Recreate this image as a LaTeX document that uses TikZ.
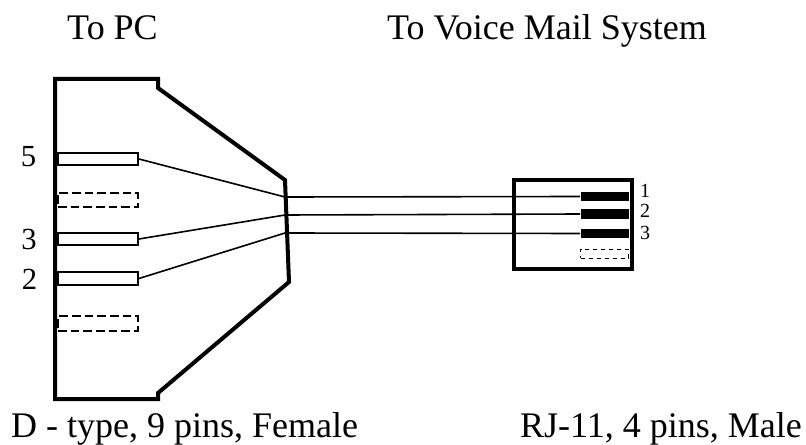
\documentclass[tikz,border=0pt]{standalone}
\usepackage{fontspec}
\setmainfont{Liberation Serif}
\begin{document}
\begin{tikzpicture}[x=0.75pt,y=-0.75pt,
    shell/.style = {line width=3pt,line join=miter},
    pin/.style = {draw,line width=1.4pt,inner sep=0pt,minimum width=60pt,minimum height=9.5pt},
    sparepin/.style = {pin,line width=1.3pt,dash pattern=on 6.5pt off 3pt,minimum height=11pt},
    blade/.style = {fill=black,inner sep=0pt,minimum width=36pt,minimum height=7pt},
    spareblade/.style = {draw,dashed,line width=0.4pt,inner sep=0pt,minimum width=36pt,minimum height=6.6pt},
    wire/.style = {line width=1.2pt},
    title/.style = {font=\fontsize{27}{30}\selectfont,inner sep=0pt,anchor=base},
    pinno/.style = {font=\fontsize{23}{26}\selectfont,inner sep=0pt,anchor=base},
    bladeno/.style = {font=\fontsize{15}{16}\selectfont,inner sep=0pt,anchor=base}]
    \useasboundingbox (0,0) rectangle (806,445);

    \node[title] (topc) at (112.5,40) {To PC};
    \node[title] (tovm) at (547,40) {To Voice Mail System};
    \node[title] (dtype) at (184.5,437) {D - type, 9 pins, Female};
    \node[title] (rj) at (661,437) {RJ-11, 4 pins, Male};

    % D connector
    \draw[shell] (55,79) -- (158,79) -- (158,88) -- (285,180) -- (289,282) -- (158,393) -- (158,399) -- (55,399) -- cycle;
    \node[pin] (pinf) at (98,159) {};
    \node[sparepin] (sparea) at (98,200) {};
    \node[pin] (pinc) at (98,239) {};
    \node[pin] (pinb) at (98,278.5) {};
    \node[sparepin] (spareb) at (98,323.5) {};
    \node[pinno] (nof) at (28.5,167) {5};
    \node[pinno] (noc) at (29,249) {3};
    \node[pinno] (nob) at (29.5,289) {2};

    % RJ-11 plug
    \draw[shell] (514,180) rectangle (632,269);
    \node[blade] (bladea) at (604.5,196.5) {};
    \node[blade] (bladeb) at (604.5,214) {};
    \node[blade] (bladec) at (604.5,233.5) {};
    \node[spareblade] (bladed) at (604.5,253.5) {};
    \node[bladeno] (noa) at (645,198) {1};
    \node[bladeno] (nob2) at (645,218) {2};
    \node[bladeno] (noc2) at (645,240) {3};

    % wires
    \coordinate (benda) at (285,197);
    \coordinate (bendb) at (285,215);
    \coordinate (bendc) at (285,233);
    \draw[wire] (pinf.east) -- (benda) -- (bladea.west);
    \draw[wire] (pinc.east) -- (bendb) -- (bladeb.west);
    \draw[wire] (pinb.east) -- (bendc) -- (bladec.west);
\end{tikzpicture}
\end{document}
